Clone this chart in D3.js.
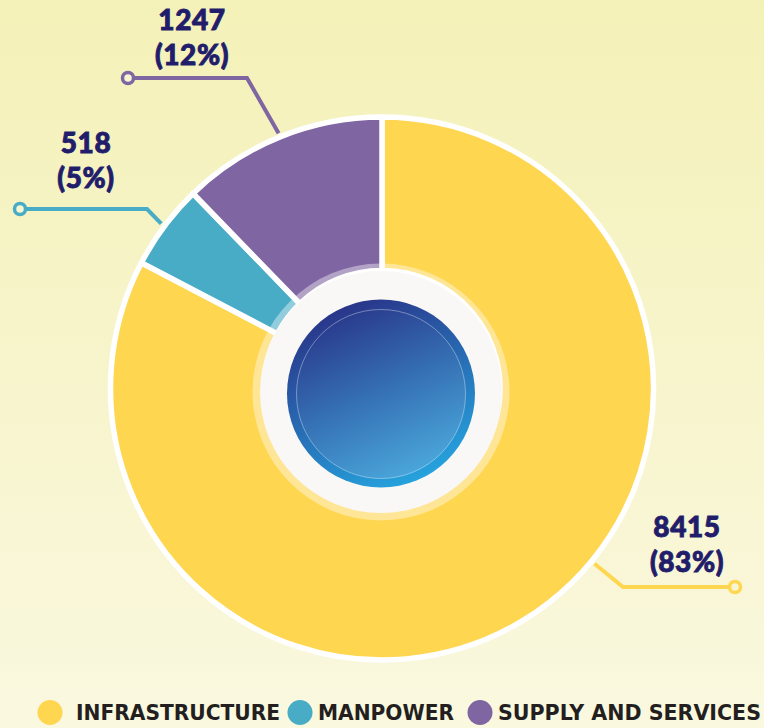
<!DOCTYPE html>
<html>
<head>
<meta charset="utf-8">
<script src="https://cdn.jsdelivr.net/npm/d3@7"></script>
<style>
  html, body { margin: 0; padding: 0; background: #f6f4c8; }
  #canvas { width: 764px; height: 728px; }
</style>
</head>
<body>
<div id="canvas"></div>
<script>
// data
const categories = ["INFRASTRUCTURE", "MANPOWER", "SUPPLY AND SERVICES"];
const values = [8415, 518, 1247];
const percentLabels = ["83%", "5%", "12%"];
const colors = ["#fed650", "#49acc6", "#7f65a1"];

// label placement (layout only)
const labelLayout = [
  { anchorAngle: 129.5, elbow: [623, 587], end: [735, 587], text: [687, 537] },
  { anchorAngle: null,  elbow: [147, 209], end: [20, 209],  text: [86, 153] },
  { anchorAngle: null,  elbow: [247, 78],  end: [128, 78],  text: [192, 30] }
];
// legend layout: dot centre x, text start x, text width
const legendLayout = [[50, 76, 204], [300, 318, 136], [480, 498, 263]];

const width = 764, height = 728;
const cx = 382, cy = 388.5;
const outerR = 271.5, innerR = 118;

const svg = d3.select("#canvas").append("svg")
  .attr("width", width)
  .attr("height", height);

const defs = svg.append("defs");

const bg = defs.append("linearGradient").attr("id", "bg")
  .attr("x1", "0").attr("y1", "0").attr("x2", "0").attr("y2", "1");
bg.append("stop").attr("offset", "0").attr("stop-color", "#f4f1b8");
bg.append("stop").attr("offset", "1").attr("stop-color", "#faf8df");

const ringGrad = defs.append("linearGradient").attr("id", "ringGrad")
  .attr("x1", "0.3").attr("y1", "0").attr("x2", "0.75").attr("y2", "1");
ringGrad.append("stop").attr("offset", "0").attr("stop-color", "#2a3287");
ringGrad.append("stop").attr("offset", "1").attr("stop-color", "#25a9e2");

const discGrad = defs.append("linearGradient").attr("id", "discGrad")
  .attr("x1", "0.3").attr("y1", "0").attr("x2", "0.75").attr("y2", "1");
discGrad.append("stop").attr("offset", "0").attr("stop-color", "#29398c");
discGrad.append("stop").attr("offset", "0.5").attr("stop-color", "#3673b6");
discGrad.append("stop").attr("offset", "1").attr("stop-color", "#4cabde");

svg.append("rect").attr("width", width).attr("height", height).attr("fill", "url(#bg)");

const g = svg.append("g").attr("transform", `translate(${cx},${cy})`);

const pie = d3.pie().sort(null).value(d => d);
const arcs = pie(values);
const arc = d3.arc().innerRadius(innerR).outerRadius(outerR);

g.selectAll("path.slice")
  .data(arcs)
  .enter().append("path")
  .attr("class", "slice")
  .attr("d", arc)
  .attr("fill", (d, i) => colors[i])
  .attr("stroke", "#ffffff")
  .attr("stroke-width", 5.5)
  .attr("stroke-linejoin", "round");

// centre decoration
const inner = svg.append("g").attr("transform", `translate(381,392)`);
inner.append("circle").attr("r", 128.5).attr("fill", "#ffffff").attr("opacity", 0.4);
inner.append("circle").attr("r", 121).attr("fill", "#f9f8f6");
inner.append("circle").attr("cy", 1.5).attr("r", 94).attr("fill", "url(#ringGrad)");
inner.append("circle").attr("cy", 2).attr("r", 84.5).attr("fill", "url(#discGrad)")
  .attr("stroke", "rgba(255,255,255,0.45)").attr("stroke-width", 0.8);

// leader lines + value labels
const toRad = a => a * Math.PI / 180;
const anchorR = outerR + 4;
const leaders = svg.append("g");
arcs.forEach((d, i) => {
  const L = labelLayout[i];
  const ang = L.anchorAngle != null ? toRad(L.anchorAngle) : (d.startAngle + d.endAngle) / 2;
  const sx = cx + anchorR * Math.sin(ang);
  const sy = cy - anchorR * Math.cos(ang);
  leaders.append("path")
    .attr("d", d3.line()([[sx, sy], L.elbow, L.end]))
    .attr("fill", "none")
    .attr("stroke", colors[i])
    .attr("stroke-width", 4);
  leaders.append("circle")
    .attr("cx", L.end[0]).attr("cy", L.end[1])
    .attr("r", 5.5)
    .attr("fill", "#f7f5d2")
    .attr("stroke", colors[i])
    .attr("stroke-width", 3.5);

  const t = leaders.append("text")
    .attr("x", L.text[0]).attr("y", L.text[1])
    .attr("text-anchor", "middle")
    .attr("font-family", "Lato, 'Open Sans', sans-serif")
    .attr("font-weight", 900)
    .attr("font-size", 28)
    .attr("fill", "#221d6b")
    .attr("stroke", "#221d6b")
    .attr("stroke-width", 0.9)
    .attr("letter-spacing", 0.6);
  t.append("tspan").attr("x", L.text[0]).text(values[i]);
  t.append("tspan").attr("x", L.text[0]).attr("dy", 35).text(`(${percentLabels[i]})`);
});

// legend
const legend = svg.append("g").attr("transform", "translate(0,712.5)");
categories.forEach((c, i) => {
  const [dotX, textX, textW] = legendLayout[i];
  legend.append("circle")
    .attr("cx", dotX).attr("r", 12.5)
    .attr("fill", colors[i]);
  legend.append("text")
    .attr("x", textX)
    .attr("y", 7.5)
    .attr("font-family", "'DejaVu Sans Condensed', 'DejaVu Sans', sans-serif")
    .attr("font-weight", "bold")
    .attr("font-size", 21)
    .attr("textLength", textW)
    .attr("lengthAdjust", "spacingAndGlyphs")
    .attr("fill", "#231f20")
    .text(c);
});
</script>
</body>
</html>
